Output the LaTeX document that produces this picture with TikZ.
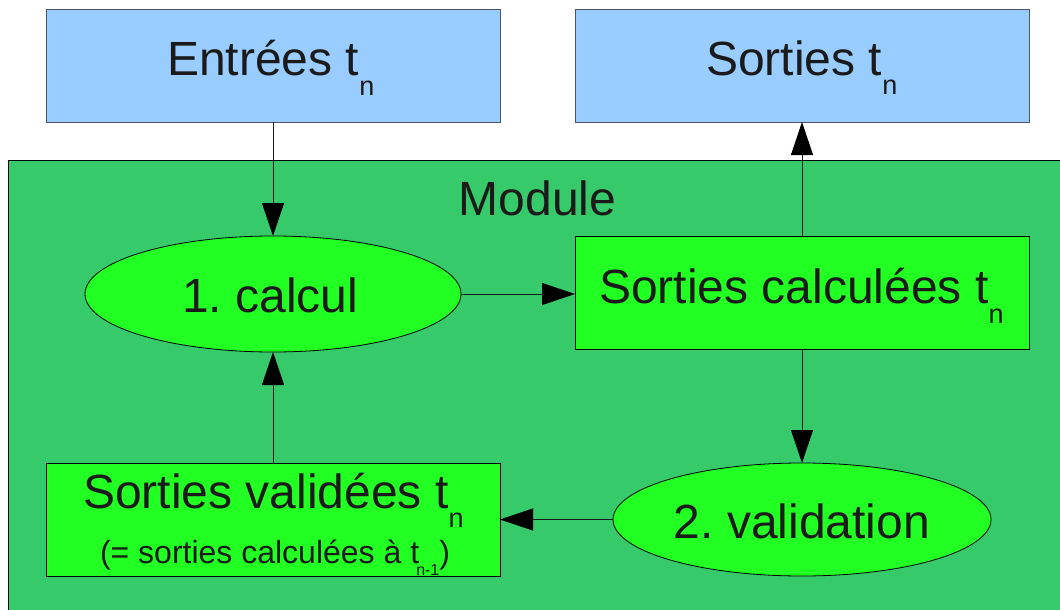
\documentclass[tikz,border=0pt]{standalone}
\usepackage{fontspec}
\setmainfont{Liberation Sans}
\usetikzlibrary{arrows.meta,shapes.geometric}
\frenchspacing

\definecolor{inoutblue}{HTML}{99CCFF}
\definecolor{modgreen}{HTML}{36CA6B}
\definecolor{stepgreen}{HTML}{22FF22}
\definecolor{inkgray}{HTML}{1A1A1A}
\definecolor{edgegray}{HTML}{4A5560}

\newcommand{\bigtxt}{\fontsize{48}{50}\selectfont}
\newcommand{\ellfont}{\fontsize{48}{50}\selectfont}
\newcommand{\subtxt}[1]{\raisebox{-20pt}{\fontsize{27}{27}\selectfont #1}}
\newcommand{\smalltxt}{\fontsize{32}{34}\selectfont}
\newcommand{\tinysub}[1]{\kern-3pt\raisebox{-12pt}{\fontsize{16}{16}\selectfont #1}}

\tikzset{
  iobox/.style={draw=edgegray, line width=1pt, fill=inoutblue, rectangle,
    minimum width=454pt, minimum height=112pt, inner sep=0pt, outer sep=0pt},
  databox/.style={draw=black, line width=1pt, fill=stepgreen, rectangle,
    minimum width=454pt, minimum height=113pt, inner sep=0pt, outer sep=0pt},
  stepell/.style={draw=black, line width=0.8pt, fill=stepgreen, ellipse,
    inner sep=0pt, outer sep=0pt},
  lbl/.style={anchor=base west, inner sep=0pt, text=inkgray},
  flow/.style={draw=black!90, line width=1pt,
    -{Triangle[length=33pt,width=22pt,fill=black,color=black]}},
}

\begin{document}
\begin{tikzpicture}[x=1pt,y=-1pt]
  \useasboundingbox (0,0) rectangle (1060,610);
  \clip (0,0) rectangle (1060,610);
  \fill[white] (0,0) rectangle (1060,610);

  % module frame
  \draw[line width=1pt, fill=modgreen] (8,160) rectangle (1075,625);

  % inputs / outputs
  \node[iobox] (inbox) at (273,66) {};
  \node[iobox] (outbox) at (802,66) {};

  % inner steps
  \node[stepell, minimum width=376pt, minimum height=116pt] (calc) at (273,294) {};
  \node[databox] (computed) at (802,292.5) {};
  \node[stepell, minimum width=378pt, minimum height=113pt] (valid) at (802,519.5) {};
  \node[databox] (validated) at (273,519.5) {};

  % connectors
  \draw[flow] (inbox.south) -- (calc.north);
  \draw[flow] (calc.east) -- (calc.east -| computed.west);
  \draw[flow] (computed.north) -- (outbox.south);
  \draw[flow] (computed.south) -- (valid.north);
  \draw[flow] (valid.west) -- (valid.west -| validated.east);
  \draw[flow] (validated.north) -- (calc.south);

  % labels
  \node[lbl] (tin) at (167,76) {\bigtxt Entrées t\subtxt{n}};
  \node[lbl] (tout) at (706,75) {\bigtxt Sorties t\subtxt{n}};
  \node[lbl] (tmod) at (458.5,215) {\bigtxt Module};
  \node[lbl] (tcalc) at (182,312) {\ellfont 1. calcul};
  \node[lbl] (tcomp) at (599,303) {\bigtxt Sorties calculées t\subtxt{n}};
  \node[lbl] (tval) at (673.5,538) {\ellfont 2. validation};
  \node[lbl] (tvalid) at (83,508) {\bigtxt Sorties validées t\raisebox{-19pt}{\fontsize{27}{27}\selectfont n}};
  \node[lbl] (tnote) at (99.8,563) {\smalltxt (= sorties calculées à t\tinysub{n-1})};
\end{tikzpicture}
\end{document}
